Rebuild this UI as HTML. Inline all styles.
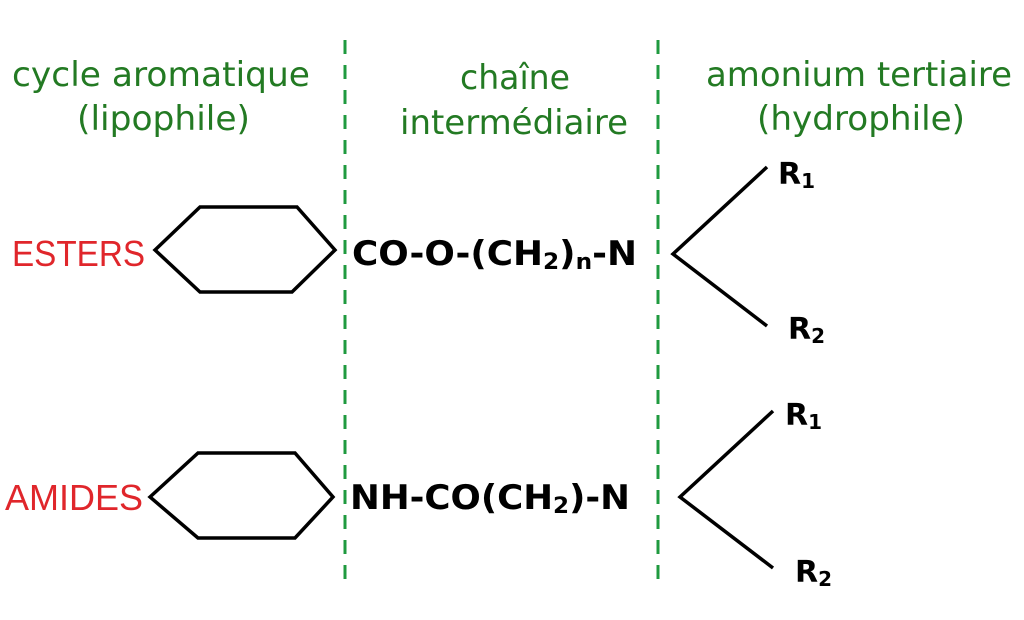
<!DOCTYPE html>
<html><head><meta charset="utf-8"><style>html,body{margin:0;padding:0;background:#fff}svg{display:block}</style></head>
<body>
<svg width="1024" height="620" viewBox="0 0 1024 620" xmlns="http://www.w3.org/2000/svg">
<g font-family="DejaVu Sans, Liberation Sans, sans-serif" fill="#237a23" font-size="34">
<text x="12" y="86" textLength="298" lengthAdjust="spacingAndGlyphs">cycle aromatique</text>
<text x="77" y="130" textLength="173" lengthAdjust="spacingAndGlyphs">(lipophile)</text>
<text x="460" y="89" textLength="110" lengthAdjust="spacingAndGlyphs">chaîne</text>
<text x="400" y="134" textLength="228" lengthAdjust="spacingAndGlyphs">intermédiaire</text>
<text x="706" y="86" textLength="306" lengthAdjust="spacingAndGlyphs">amonium tertiaire</text>
<text x="757" y="130" textLength="208" lengthAdjust="spacingAndGlyphs">(hydrophile)</text>
</g>
<g stroke="#1f9a3f" stroke-width="3" stroke-dasharray="14,11">
<line x1="345" y1="40" x2="345" y2="590"/>
<line x1="658" y1="40" x2="658" y2="590"/>
</g>
<g fill="none" stroke="#000" stroke-width="3.5">
<polygon points="155,250 200,207 297,207 335,250 292,292 200,292"/>
<polygon points="150,497 198,453 295,453 333,497 295,538 198,538"/>
<polyline points="767,167 673,254 767,326"/>
<polyline points="773,411 680,497 773,568"/>
</g>
<g font-family="Liberation Sans, sans-serif" fill="#e0262b" font-size="36">
<text x="12" y="266" textLength="133" lengthAdjust="spacingAndGlyphs">ESTERS</text>
<text x="5" y="510" textLength="138" lengthAdjust="spacingAndGlyphs">AMIDES</text>
</g>
<g font-family="DejaVu Sans, sans-serif" font-weight="bold" fill="#000" font-size="34">
<text x="352" y="265" textLength="285" lengthAdjust="spacingAndGlyphs">CO-O-(CH<tspan font-size="22" dy="4">2</tspan><tspan dy="-4">)</tspan><tspan font-size="22" dy="4">n</tspan><tspan dy="-4">-N</tspan></text>
<text x="350" y="509" textLength="280" lengthAdjust="spacingAndGlyphs">NH-CO(CH<tspan font-size="22" dy="4">2</tspan><tspan dy="-4">)-N</tspan></text>
</g>
<g font-family="DejaVu Sans, sans-serif" font-weight="bold" fill="#000" font-size="30">
<text x="778" y="184">R<tspan font-size="20" dy="4">1</tspan></text>
<text x="788" y="339">R<tspan font-size="20" dy="4">2</tspan></text>
<text x="785" y="425">R<tspan font-size="20" dy="4">1</tspan></text>
<text x="795" y="582">R<tspan font-size="20" dy="4">2</tspan></text>
</g>
</svg>
</body></html>
